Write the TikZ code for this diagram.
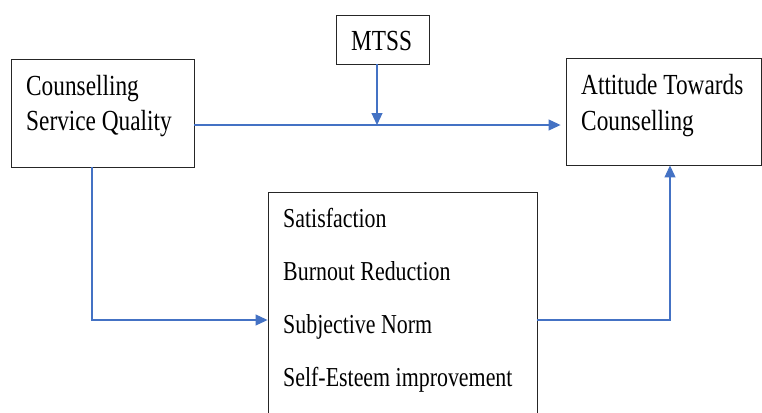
\documentclass[tikz,border=0pt]{standalone}
\usepackage{fontspec}
\setmainfont{Liberation Serif}
\usetikzlibrary{arrows.meta, calc}
\definecolor{linkblue}{RGB}{68,114,196}
\newcommand{\tallline}[1]{\scalebox{1}[1.25]{#1}}

\begin{document}
\begin{tikzpicture}[x=1pt, y=1pt,
  every node/.style={font=\fontsize{23.3}{28}\selectfont},
  box/.style={rectangle, draw=black!85, line width=0.9pt, inner sep=0pt},
  line/.style={anchor=base west, inner sep=0pt},
  item/.style={anchor=base west, inner sep=0pt, font=\fontsize{21.9}{26}\selectfont},
  flow/.style={-{Triangle[length=12pt, width=11pt]}, draw=linkblue, line width=1.1pt},
]
  \useasboundingbox (0,0) rectangle (762,-412);
  \clip (0,0) rectangle (762,-412);

  % boxes
  \node[box, minimum width=183pt, minimum height=108pt] (csq) at (102.5,-113) {};
  \node[box, minimum width=93pt, minimum height=49pt] (mtss) at (382.5,-39.5) {};
  \node[box, minimum width=195pt, minimum height=107pt] (atc) at (663.5,-111.5) {};
  \node[box, minimum width=269pt, minimum height=256pt] (med) at (402.5,-320) {};

  % texts
  \node[line] (csq1) at (26,-95) {\tallline{Counselling}};
  \node[line] (csq2) at (26,-130) {\tallline{Service Quality}};
  \node[line] (mtsstxt) at (351,-50) {\tallline{MTSS}};
  \node[line] (atc1) at (581,-94) {\tallline{Attitude Towards}};
  \node[line] (atc2) at (581,-130) {\tallline{Counselling}};
  \foreach \t [count=\i] in {Satisfaction, Burnout Reduction, Subjective Norm, Self-Esteem improvement}
    \node[item] (med\i) at (283,{-227-53*(\i-1)}) {\tallline{\t}};

  % connectors
  \coordinate (join) at (377,-125);
  \draw[flow, shorten >=5pt] (csq.east |- join) -- (atc.west |- join);
  \draw[flow] (mtss.south -| join) -- (join);
  \draw[flow] ([xshift=-10.5pt]csq.south) |- (med.west);
  \draw[flow] (med.east) -| ([xshift=6.5pt]atc.south);
\end{tikzpicture}
\end{document}
